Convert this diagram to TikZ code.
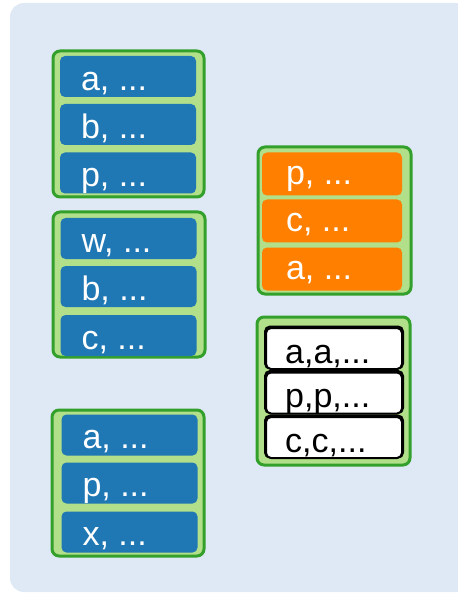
\documentclass[tikz,border=0pt]{standalone}
\usepackage{fontspec}
\setmainfont{Liberation Sans}
\usepackage{tikz}
\usetikzlibrary{positioning,calc}

\definecolor{bgblue}{HTML}{DEE9F5}
\definecolor{grpgreen}{HTML}{33A02C}
\definecolor{grpfill}{HTML}{B2DF8A}
\definecolor{cellblue}{HTML}{1F78B4}
\definecolor{cellorange}{HTML}{FF7F00}

\tikzset{
  group/.style={draw=grpgreen, fill=grpfill, line width=3pt, rounded corners=7pt},
  cell/.style={fill=cellblue, rounded corners=5pt, minimum width=136pt, minimum height=41pt,
    inner sep=0pt, text=white, font=\fontsize{34}{36}\selectfont},
  ocell/.style={cell, fill=cellorange, minimum width=140pt, minimum height=43pt},
  wcell/.style={draw=black, fill=white, line width=2pt, rounded corners=5pt,
    minimum width=136pt, minimum height=41pt, inner sep=0pt, text=black,
    font=\fontsize{34}{36}\selectfont},
  lbl/.style={anchor=base west, inner sep=0pt, font=\fontsize{34}{36}\selectfont}
}

\begin{document}
\begin{tikzpicture}[x=1pt,y=-1pt]
  \useasboundingbox (0,0) rectangle (457,593);
  \fill[bgblue, rounded corners=14pt] (10,3) rectangle (470,592);

  % left column
  \draw[group] (53,51) rectangle (204,197);
  \node[cell] (a1) at (128,76.5) {};
  \node[cell] (b1) at (128,124.5) {};
  \node[cell] (p1) at (128,173) {};
  \foreach \n/\t in {a1/{a, ...}, b1/{b, ...}, p1/{p, ...}}
    \node[lbl, text=white] at ($(\n.south west)+(21,-7)$) {\t};

  \draw[group] (53,212) rectangle (205,357);
  \node[cell] (w2) at (128.5,238.5) {};
  \node[cell] (b2) at (128.5,286.5) {};
  \node[cell] (c2) at (128.5,335.5) {};
  \foreach \n/\t in {w2/{w, ...}, b2/{b, ...}, c2/{c, ...}}
    \node[lbl, text=white] at ($(\n.south west)+(21,-7)$) {\t};

  \draw[group] (52,410) rectangle (204,556);
  \node[cell] (a3) at (129.5,435) {};
  \node[cell] (p3) at (129.5,483) {};
  \node[cell] (x3) at (129.5,532) {};
  \foreach \n/\t in {a3/{a, ...}, p3/{p, ...}, x3/{x, ...}}
    \node[lbl, text=white] at ($(\n.south west)+(21,-7)$) {\t};

  % right column
  \draw[group] (258,147) rectangle (411,294);
  \node[ocell] (p4) at (332,174) {};
  \node[ocell] (c4) at (332,221) {};
  \node[ocell] (a4) at (332,269) {};
  \foreach \n/\t in {p4/{p, ...}, c4/{c, ...}, a4/{a, ...}}
    \node[lbl, text=white] at ($(\n.south west)+(24,-11)$) {\t};

  \draw[group] (257,317) rectangle (410,465);
  \foreach \n/\y in {aa/348.5, pp/393, cc/437.5}
    \draw[black, line width=2pt, rounded corners=5pt]
      (265,\y-22) rectangle (403,\y+20);
  \node[wcell] (aa) at (334,348.5) {};
  \node[wcell] (pp) at (334,393) {};
  \node[wcell] (cc) at (334,437.5) {};
  \node[lbl] at ($(aa.south west)+(20,-7)$) {a,a,...};
  \node[lbl] at ($(pp.south west)+(20,-7)$) {p,p,...};
  \node[lbl] at ($(cc.south west)+(20,-7)$) {c,c,...};
\end{tikzpicture}
\end{document}
